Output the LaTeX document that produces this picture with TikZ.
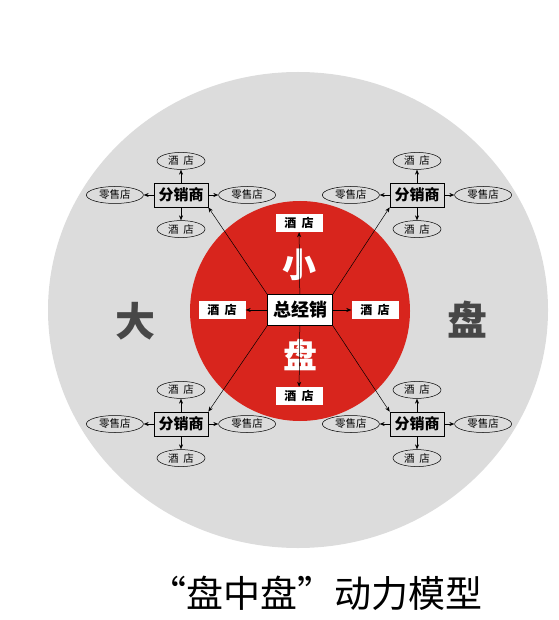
\documentclass[tikz,border=0pt]{standalone}
\usepackage{fontspec}
\setmainfont{Noto Sans CJK SC}
\usetikzlibrary{arrows.meta, positioning, shapes.geometric}
\definecolor{pangray}{HTML}{DCDCDC}
\definecolor{panred}{HTML}{D8251D}
\definecolor{pandark}{HTML}{474747}
\newcommand{\jiudian}{酒\hspace{0.45em}店}

\begin{document}
\begin{tikzpicture}[x=1pt, y=-1pt,
            mainbox/.style={ rectangle, draw, fill=white, line width=0.8pt, minimum width=65pt, minimum height=31pt, inner sep=1pt, font=\bfseries\fontsize{18}{18}\selectfont },
            hotelbox/.style={ rectangle, fill=white, minimum width=47pt, minimum height=18pt, inner sep=0pt, font=\bfseries\fontsize{12}{12}\selectfont },
            distbox/.style={ rectangle, draw, line width=0.7pt, minimum width=54pt, minimum height=24pt, inner sep=0pt, font=\bfseries\fontsize{15}{15}\selectfont },
            shopell/.style={ ellipse, draw, line width=0.5pt, minimum width=57pt, minimum height=17pt, inner sep=0pt, font=\fontsize{10.5}{10.5}\selectfont },
            hotelell/.style={ shopell, minimum width=48pt },
            bigchar/.style={ text=pandark, font=\bfseries\fontsize{40}{40}\selectfont },
            smallchar/.style={ text=white, font=\bfseries\fontsize{34}{34}\selectfont },
            arrow/.style={ ->, line width=0.5pt, >={Stealth[length=5pt, width=4pt]} }
        ]
            \useasboundingbox (0,0) rectangle (558,620);

            % The two discs
            \fill[pangray] (298,310) ellipse [x radius=250pt, y radius=238pt];
            \fill[panred] (300,311) circle [radius=110pt];

            % Big disc labels
            \node (da) [bigchar] at (135,321) {大};
            \node (pan) [bigchar] at (467,320) {盘};

            % Small disc
            \node (xiao) [smallchar] at (299,265) {小};
            \node (xpan) [smallchar] at (300,355) {盘};
            \node (zjx) [mainbox] at (300,310) {总经销};
            \node (hn) [hotelbox] at (299,223) {\jiudian};
            \node (hs) [hotelbox] at (299,396) {\jiudian};
            \node (hw) [hotelbox] at (222,310) {\jiudian};
            \node (he) [hotelbox] at (375,310) {\jiudian};

            % Distributors
            \node (tl) [distbox] at (181,195) {分销商};
            \node (tr) [distbox] at (417,195) {分销商};
            \node (bl) [distbox] at (181,424) {分销商};
            \node (br) [distbox] at (417,424) {分销商};

            % Shops round each distributor
            \node (tln) [hotelell, above=13pt of tl] {\jiudian};
            \node (tls) [hotelell, below=13pt of tl] {\jiudian};
            \node (tlw) [shopell, left=10pt of tl] {零售店};
            \node (tle) [shopell, right=10pt of tl] {零售店};

            \node (trn) [hotelell, above=13pt of tr] {\jiudian};
            \node (trs) [hotelell, below=13pt of tr] {\jiudian};
            \node (trw) [shopell, left=10pt of tr] {零售店};
            \node (tre) [shopell, right=10pt of tr] {零售店};

            \node (bln) [hotelell, above=13pt of bl] {\jiudian};
            \node (bls) [hotelell, below=13pt of bl] {\jiudian};
            \node (blw) [shopell, left=10pt of bl] {零售店};
            \node (ble) [shopell, right=10pt of bl] {零售店};

            \node (brn) [hotelell, above=13pt of br] {\jiudian};
            \node (brs) [hotelell, below=13pt of br] {\jiudian};
            \node (brw) [shopell, left=10pt of br] {零售店};
            \node (bre) [shopell, right=10pt of br] {零售店};

            % Title
            \node (title) at (316,593) {\fontsize{37}{37}\selectfont “盘中盘”动力模型};

            % Arrows from the general distributor
            \draw[arrow] (zjx) -- (hn);
            \draw[arrow] (zjx) -- (hs);
            \draw[arrow] (zjx) -- (hw);
            \draw[arrow] (zjx) -- (he);
            \draw[arrow] (zjx.north west) -- (tl.south east);
            \draw[arrow] (zjx.north east) -- (tr.south west);
            \draw[arrow] (zjx.south west) -- (bl.north east);
            \draw[arrow] (zjx.south east) -- (br.north west);

            % Arrows from the distributors
            \draw[arrow] (tl) -- (tln);
            \draw[arrow] (tl) -- (tls);
            \draw[arrow] (tl) -- (tlw);
            \draw[arrow] (tl) -- (tle);
            \draw[arrow] (tr) -- (trn);
            \draw[arrow] (tr) -- (trs);
            \draw[arrow] (tr) -- (trw);
            \draw[arrow] (tr) -- (tre);
            \draw[arrow] (bl) -- (bln);
            \draw[arrow] (bl) -- (bls);
            \draw[arrow] (bl) -- (blw);
            \draw[arrow] (bl) -- (ble);
            \draw[arrow] (br) -- (brn);
            \draw[arrow] (br) -- (brs);
            \draw[arrow] (br) -- (brw);
            \draw[arrow] (br) -- (bre);

        \end{tikzpicture}
\end{document}
